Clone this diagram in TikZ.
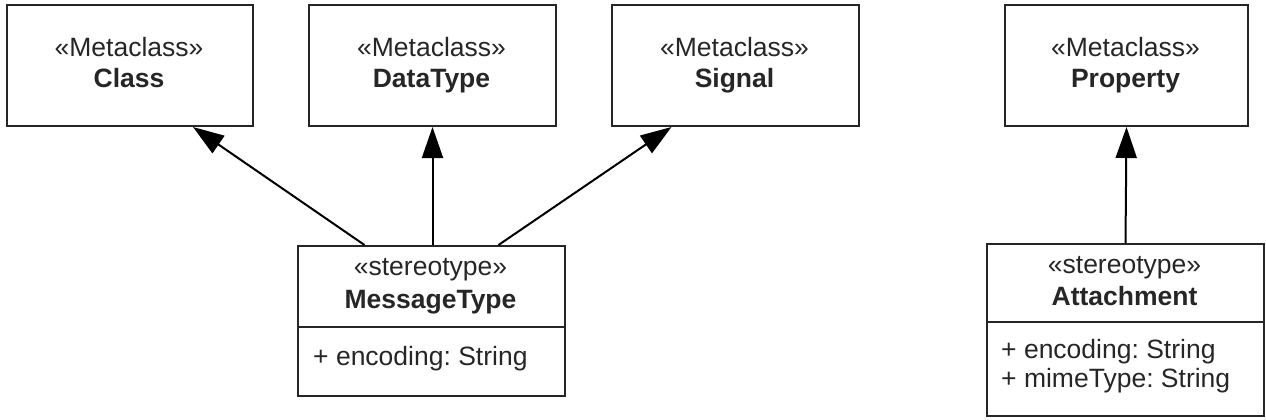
\documentclass[tikz,border=0pt]{standalone}
\usepackage{fontspec}
\setmainfont{Liberation Sans}
\usetikzlibrary{arrows.meta}
\frenchspacing
\begin{document}
\begin{tikzpicture}[x=1pt,y=-1pt,
  box/.style={draw=black!85, line width=2pt, rectangle, inner sep=0pt, anchor=north west},
  txt/.style={anchor=base, inner sep=0pt, font=\fontsize{26.5}{31}\selectfont, text=black!85},
  btxt/.style={txt, font=\fontsize{26.5}{31}\selectfont\bfseries},
  atxt/.style={txt, anchor=base west},
  gen/.style={draw=black, line width=2pt, -{Triangle[length=31pt,width=21pt]}}]
\useasboundingbox (0,0) rectangle (1266,420);
% metaclass boxes
\node[box, minimum width=246pt, minimum height=121pt] (cls) at (6,4) {};
\node[box, minimum width=247pt, minimum height=121pt] (dt) at (308,4) {};
\node[box, minimum width=247pt, minimum height=121pt] (sig) at (611,4) {};
\node[box, minimum width=243pt, minimum height=121pt] (prop) at (1004,4) {};
\node[txt] (clsS) at (129,57) {«Metaclass»};
\node[btxt] (clsN) at (129,88) {Class};
\node[txt] (dtS) at (431.5,57) {«Metaclass»};
\node[btxt] (dtN) at (431.5,88) {DataType};
\node[txt] (sigS) at (734.5,57) {«Metaclass»};
\node[btxt] (sigN) at (734.5,88) {Signal};
\node[txt] (propS) at (1125.5,57) {«Metaclass»};
\node[btxt] (propN) at (1125.5,88) {Property};
% MessageType
\node[box, minimum width=267pt, minimum height=150pt] (mt) at (297,245) {};
\coordinate (mtdl) at (297,327);
\coordinate (mtdr) at (564,327);
\draw[draw=black!85, line width=2pt] (mtdl) -- (mtdr);
\node[txt] (mtS) at (430.5,275) {«stereotype»};
\node[btxt] (mtN) at (430.5,308) {MessageType};
\node[atxt] (mtA) at (313,365) {+ encoding: String};
% Attachment
\node[box, minimum width=277pt, minimum height=172pt] (att) at (986,243) {};
\coordinate (atdl) at (986,322);
\coordinate (atdr) at (1263,322);
\draw[draw=black!85, line width=2pt] (atdl) -- (atdr);
\node[txt] (atS) at (1124.5,273) {«stereotype»};
\node[btxt] (atN) at (1124.5,305) {Attachment};
\node[atxt] (atA1) at (1001,358) {+ encoding: String};
\node[atxt] (atA2) at (1001,387) {+ mimeType: String};
% generalizations
\draw[gen] ([xshift=-67pt]mt.north) -- ([xshift=63pt]cls.south);
\draw[gen] ([xshift=1pt]mt.north) -- ([xshift=0pt]dt.south);
\draw[gen] ([xshift=67pt]mt.north) -- ([xshift=-64pt]sig.south);
\draw[gen] (att.north) -- (prop.south);
\end{tikzpicture}
\end{document}
